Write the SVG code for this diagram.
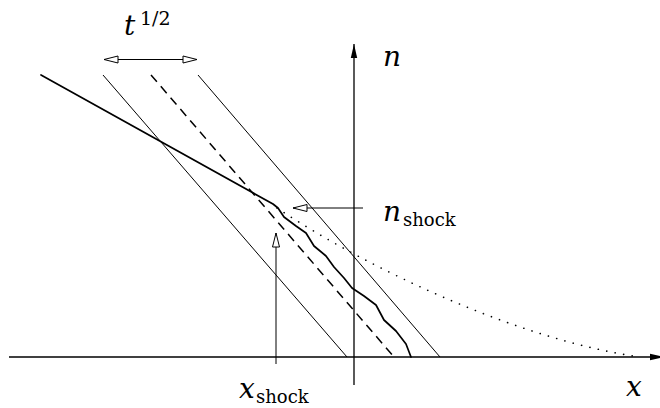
<svg xmlns="http://www.w3.org/2000/svg" width="660" height="408" viewBox="0 0 660 408">
<style>
.thin{stroke:#000;stroke-width:1;fill:none}
.axis{stroke:#000;stroke-width:1.3;fill:none}
.thick{stroke:#000;stroke-width:1.7;fill:none;stroke-linejoin:round;stroke-linecap:round}
.dash{stroke:#000;stroke-width:1.5;fill:none;stroke-dasharray:9 6}
.dot{stroke:#000;stroke-width:1.6;fill:none;stroke-dasharray:0.1 8.5;stroke-linecap:round}
</style>
<defs>
<marker id="fill" markerWidth="14" markerHeight="8" refX="14" refY="4" orient="auto" markerUnits="userSpaceOnUse">
<path d="M0,0.8 L14,4 L0,7.2 Z" fill="#000"/>
</marker>
<marker id="open" markerWidth="16" markerHeight="10" refX="15" refY="5" orient="auto-start-reverse" markerUnits="userSpaceOnUse">
<path d="M1,1.5 L15,5 L1,8.5 Z" fill="#fff" stroke="#000" stroke-width="1"/>
</marker>
</defs>
<g id="connectors">
<line id="x-axis" class="axis" x1="9" y1="357" x2="664" y2="357" marker-end="url(#fill)"/>
<line id="n-axis" class="axis" x1="354" y1="385" x2="354" y2="44" marker-end="url(#fill)"/>
<line id="width-arrow" class="thin" x1="104" y1="59.5" x2="197" y2="59.5" marker-start="url(#open)" marker-end="url(#open)"/>
<line id="nshock-arrow" class="thin" x1="363" y1="208" x2="293" y2="208" marker-end="url(#open)"/>
<line id="xshock-arrow" class="thin" x1="276" y1="364" x2="276" y2="233" marker-end="url(#open)"/>
</g>
<g id="band">
<line class="thin" x1="103" y1="75" x2="347" y2="357"/>
<line class="dash" x1="151" y1="75" x2="394" y2="357"/>
<line class="thin" x1="198" y1="75" x2="440" y2="357"/>
</g>
<g id="profile">
<path class="thick" d="M41,75 L273,204 L278,208 L284,217 L296,226 L306,233 L314,246 L326,256 L334,267 L344,278 L352,288 L364,296 L376,305 L384,320 L396,331 L406,344 L411,357"/>
<path class="dot" d="M277,208 C370,270 520,340 640,357"/>
</g>
<g id="labels" fill="#000">
<text x="124" y="35" font-size="28" font-style="italic" font-family="'DejaVu Serif', serif">t</text>
<text x="140" y="25" font-size="19" font-family="'DejaVu Serif', serif">1/2</text>
<text x="383" y="66" font-size="28" font-style="italic" font-family="'DejaVu Serif', serif">n</text>
<text x="383" y="221" font-size="28" font-style="italic" font-family="'DejaVu Serif', serif">n</text>
<text x="403" y="226" font-size="18" font-family="'DejaVu Serif', serif">shock</text>
<text x="239" y="398" font-size="28" font-style="italic" font-family="'DejaVu Serif', serif">x</text>
<text x="256" y="403" font-size="18" font-family="'DejaVu Serif', serif">shock</text>
<text x="626" y="396" font-size="28" font-style="italic" font-family="'DejaVu Serif', serif">x</text>
</g>
</svg>
